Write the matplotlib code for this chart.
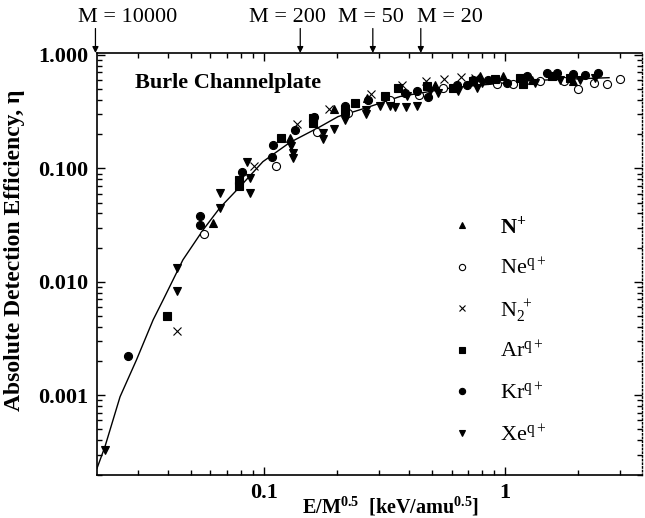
import numpy as np
import matplotlib
matplotlib.use("Agg")
import matplotlib.pyplot as plt
from matplotlib.ticker import LogLocator, FuncFormatter, NullFormatter

plt.rcParams['font.family'] = ['Liberation Serif', 'DejaVu Serif']
plt.rcParams['mathtext.fontset'] = 'stix'

"""Data read off the figure (E/M^0.5 in keV/amu^0.5, efficiency eta)"""
n_x = [0.0616, 0.128, 0.196, 0.267, 0.512, 0.788, 0.984, 1.29, 1.92]
n_y = [0.033, 0.185, 0.337, 0.418, 0.541, 0.649, 0.649, 0.607, 0.586]

ne_x = [0.0564, 0.112, 0.166, 0.224, 0.333, 0.441, 0.555, 0.924, 1.08, 1.40, 1.75, 2.0, 2.33, 2.64, 3.0]
ne_y = [0.0264, 0.1057, 0.211, 0.308, 0.404, 0.447, 0.512, 0.556, 0.556, 0.586, 0.586, 0.505, 0.567, 0.556, 0.619]

n2_x = [0.0437, 0.091, 0.1375, 0.186, 0.278, 0.373, 0.470, 0.560, 0.655, 0.751]
n2_y = [0.0037, 0.1057, 0.246, 0.337, 0.454, 0.541, 0.586, 0.615, 0.635, 0.628]

ar_x = [0.0397, 0.079, 0.079, 0.118, 0.160, 0.160, 0.217, 0.239, 0.318, 0.361, 0.473, 0.610, 0.739,
        0.909, 1.15, 1.19, 1.56, 1.86]
ar_y = [0.00501, 0.0693, 0.0794, 0.185, 0.252, 0.280, 0.323, 0.377, 0.431, 0.512, 0.529, 0.512, 0.586,
        0.619, 0.628, 0.556, 0.649, 0.628]

kr_x = [0.0272, 0.0542, 0.0542, 0.0808, 0.1076, 0.1087, 0.1345, 0.162, 0.217, 0.271, 0.385, 0.430,
        0.481, 0.630, 0.693, 0.739, 0.853, 1.016, 1.23, 1.49, 1.64, 1.92, 2.15, 2.42]
kr_y = [0.00222, 0.0377, 0.0318, 0.0922, 0.125, 0.160, 0.220, 0.284, 0.352, 0.404, 0.463, 0.478,
        0.424, 0.548, 0.548, 0.607, 0.607, 0.567, 0.649, 0.695, 0.695, 0.681, 0.671, 0.695]

xe_x = [0.0219, 0.0437, 0.0437, 0.0657, 0.0657, 0.0875, 0.0875, 0.085, 0.130, 0.1315, 0.1315, 0.175,
        0.175, 0.195, 0.217, 0.265, 0.265, 0.303, 0.333, 0.350, 0.388, 0.433, 0.393, 0.489, 0.529,
        0.640, 0.763, 0.800, 1.33, 1.69, 2.05, 2.36]
xe_y = [0.00033, 0.0132, 0.00833, 0.0447, 0.0607, 0.0822, 0.0607, 0.113, 0.158, 0.137, 0.124, 0.205,
        0.182, 0.223, 0.269, 0.330, 0.302, 0.352, 0.352, 0.345, 0.345, 0.352, 0.431, 0.478, 0.463,
        0.485, 0.512, 0.567, 0.567, 0.607, 0.607, 0.628]

#fitted curve
fit_x = [0.0203, 0.0219, 0.0253, 0.0296, 0.0347, 0.0382, 0.0461, 0.056, 0.0657, 0.0795, 0.099,
         0.128, 0.171, 0.203, 0.26, 0.367, 0.608, 1.27, 2.7]
fit_y = [2.27e-4, 3.52e-4, 9.7e-4, 2.05e-3, 4.62e-3, 6.94e-3, 0.0156, 0.0288, 0.045, 0.0689, 0.1146,
         0.169, 0.233, 0.286, 0.337, 0.43, 0.515, 0.594, 0.63]

"""Mass markers on top: E/M^0.5 for E = 2 keV"""
E0 = 2.0
masses = [10000, 200, 50, 20]
mass_shift = [0.85, 0.614, 0.72, 0.96]

series = [
    (n_x, n_y, "^", "k", r"$\mathregular{N^{+}}$", "bold"),
    (ne_x, ne_y, "o", "white", r"$\mathregular{Ne^{q+}}$", "normal"),
    (n2_x, n2_y, "x", "k", r"$\mathregular{N_{2}^{\ +}}$", "normal"),
    (ar_x, ar_y, "s", "k", r"$\mathregular{Ar^{q+}}$", "normal"),
    (kr_x, kr_y, "o", "k", r"$\mathregular{Kr^{q+}}$", "normal"),
    (xe_x, xe_y, "v", "k", r"$\mathregular{Xe^{q+}}$", "normal"),
]

fig = plt.figure(figsize=(6.45, 5.18), dpi=100)
ax = fig.add_axes([0.1504, 0.083, 0.845, 0.8147])

ax.plot(fit_x, fit_y, color="k", lw=1.0, zorder=2)
for sx, sy, mk, fc, lab, wt in series:
    if mk == "x":
        ax.plot(sx, sy, ls="none", marker="x", ms=5.5, mec="k", mew=0.8, zorder=3)
    else:
        ax.plot(sx, sy, ls="none", marker=mk, ms=5.8, mfc=fc, mec="k", mew=0.8, zorder=3)

ax.set_xscale("log")
ax.set_yscale("log")
ax.set_xlim(0.0203, 3.7)
ax.set_ylim(1.98e-4, 1.04)

ax.yaxis.set_major_locator(LogLocator(base=10, numticks=10))
ax.yaxis.set_major_formatter(FuncFormatter(lambda v, p: "%.3f" % v if v >= 0.001 else ""))
ax.yaxis.set_minor_locator(LogLocator(base=10, subs=np.arange(2, 10), numticks=20))
ax.yaxis.set_minor_formatter(NullFormatter())
ax.xaxis.set_major_formatter(FuncFormatter(lambda v, p: "%g" % v))
ax.xaxis.set_minor_locator(LogLocator(base=10, subs=np.arange(2, 10), numticks=20))
ax.xaxis.set_minor_formatter(NullFormatter())

ax.tick_params(which="both", direction="in", top=True, right=True, width=1.0)
ax.tick_params(which="major", length=6, labelsize=16, pad=6)
ax.tick_params(which="minor", length=3.5)
for lbl in ax.get_xticklabels() + ax.get_yticklabels():
    lbl.set_fontweight("bold")

for s in ["left", "bottom", "top"]:
    ax.spines[s].set_linewidth(1.2)
ax.spines["right"].set_linestyle(":")
ax.spines["right"].set_linewidth(1.0)

ax.set_xlabel(r"E/M$\mathregular{^{0.5}}$  [keV/amu$\mathregular{^{0.5}}$]",
              fontsize=14.5, fontweight="bold", va="baseline")
ax.xaxis.set_label_coords(0.538, -0.090)
ax.set_ylabel("Absolute Detection Efficiency, η", fontsize=17, fontweight="bold", va="center")
ax.yaxis.set_label_coords(-0.152, 0.533)

ax.text(0.07, 0.93, "Burle Channelplate", transform=ax.transAxes, fontsize=16,
        fontweight="bold", va="center", ha="left")

#arrows and labels on top
for m, sh in zip(masses, mass_shift):
    xm = E0 / np.sqrt(m)
    ax.annotate("", xy=(xm, 1.0), xycoords=("data", "axes fraction"),
                xytext=(xm, 1.058), textcoords=("data", "axes fraction"),
                arrowprops=dict(arrowstyle="-|>", color="k", lw=0.9, mutation_scale=9,
                                shrinkA=0, shrinkB=0))
    ax.text(xm * sh, 1.085, "M = %d" % m, transform=ax.get_xaxis_transform(),
            fontsize=16, ha="left", va="center", clip_on=False)

#legend drawn by hand
for i, (sx, sy, mk, fc, lab, wt) in enumerate(series):
    yy = 0.592 - 0.0985 * i
    if mk == "x":
        ax.plot([0.670], [yy], transform=ax.transAxes, ls="none", marker="x", ms=4.5,
                mec="k", mew=0.8, clip_on=False)
    else:
        ax.plot([0.670], [yy], transform=ax.transAxes, ls="none", marker=mk, ms=4.5,
                mfc=fc, mec="k", mew=0.8, clip_on=False)
    ax.text(0.739, yy - 0.019, lab, transform=ax.transAxes, fontsize=16, fontweight=wt,
            ha="left", va="baseline")

plt.savefig("out.png", dpi=100)
